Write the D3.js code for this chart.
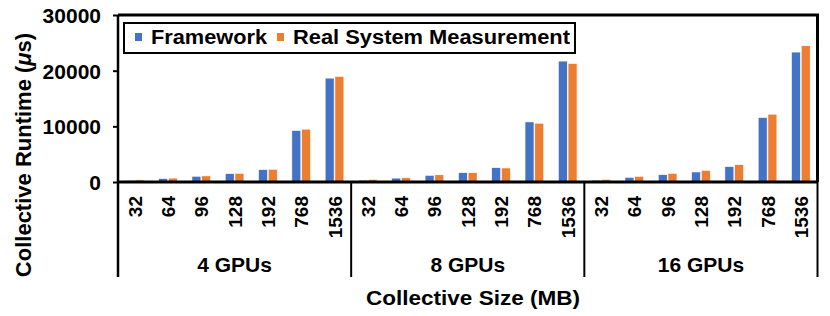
<!DOCTYPE html>
<html>
<head>
<meta charset="utf-8">
<script src="https://cdn.jsdelivr.net/npm/d3@7"></script>
<style>
  body { margin: 0; background: #fff; }
  text { font-family: "Liberation Sans", Arial, sans-serif; font-weight: bold; fill: #000; }
</style>
</head>
<body>
<svg width="830" height="316"></svg>
<script>
// data
const groups = ['4 GPUs', '8 GPUs', '16 GPUs'];
const sizes = ['32', '64', '96', '128', '192', '768', '1536'];
const series = ['Framework', 'Real System Measurement'];
const framework = [
  [300, 620, 1030, 1500, 2230, 9250, 18660],
  [330, 700, 1200, 1680, 2580, 10800, 21720],
  [330, 840, 1320, 1800, 2760, 11580, 23340]
];
const measured = [
  [380, 700, 1100, 1560, 2290, 9490, 18970],
  [450, 760, 1300, 1680, 2520, 10560, 21300],
  [480, 1020, 1560, 2100, 3120, 12180, 24480]
];
const yTicks = [0, 10000, 20000, 30000];
const colors = ['#4472C4', '#ED7D31'];

// layout
const LEFT = 118, RIGHT = 817.5, TOP = 15, BOTTOM = 182, SEP_BOTTOM = 277;

const svg = d3.select('svg');

const y = d3.scaleLinear().domain([0, 30000]).range([BOTTOM, TOP]);
const xGroup = d3.scaleBand().domain(groups).range([LEFT, RIGHT]);
const xSize = d3.scaleBand().domain(sizes).range([0, xGroup.bandwidth()]);
const xSeries = d3.scaleBand().domain(series).range([0, xSize.bandwidth()]).paddingOuter(0.75).paddingInner(0.08);

// bars
const rows = [];
groups.forEach((g, gi) => sizes.forEach((s, si) => {
  rows.push({g, s, k: series[0], v: framework[gi][si], c: colors[0]});
  rows.push({g, s, k: series[1], v: measured[gi][si], c: colors[1]});
}));

svg.append('g').selectAll('rect')
  .data(rows).join('rect')
  .attr('x', d => xGroup(d.g) + xSize(d.s) + xSeries(d.k))
  .attr('y', d => y(d.v))
  .attr('width', xSeries.bandwidth())
  .attr('height', d => BOTTOM - y(d.v))
  .attr('fill', d => d.c)
  .attr('stroke', '#fff')
  .attr('stroke-width', 0.6);

// frame
svg.append('path')
  .attr('d', `M${LEFT},${TOP}H${RIGHT}V${BOTTOM}`)
  .attr('fill', 'none').attr('stroke', '#000').attr('stroke-width', 3);
svg.append('line')
  .attr('x1', LEFT).attr('x2', RIGHT).attr('y1', BOTTOM).attr('y2', BOTTOM)
  .attr('stroke', '#000').attr('stroke-width', 3);
svg.append('line')
  .attr('x1', LEFT).attr('x2', LEFT).attr('y1', TOP).attr('y2', SEP_BOTTOM)
  .attr('stroke', '#000').attr('stroke-width', 2.5);

// y axis
const yAxis = svg.append('g')
  .attr('transform', `translate(${LEFT},0)`)
  .call(d3.axisLeft(y).tickValues(yTicks).tickSize(5).tickPadding(12).tickFormat(d3.format('d')));
yAxis.select('.domain').remove();
yAxis.selectAll('line').attr('stroke', '#000').attr('stroke-width', 2);
yAxis.selectAll('text')
  .attr('font-size', 21).attr('font-family', null).attr('fill', '#000')
  .attr('dy', '0.36em');

// group separators
svg.append('g').selectAll('line')
  .data(groups.slice(1).map(g => xGroup(g)).concat([RIGHT]))
  .join('line')
  .attr('x1', d => d).attr('x2', d => d)
  .attr('y1', BOTTOM).attr('y2', SEP_BOTTOM)
  .attr('stroke', '#000').attr('stroke-width', 2);

// size labels
const sizeLabels = [];
groups.forEach(g => sizes.forEach(s => sizeLabels.push({g, s})));
svg.append('g').selectAll('text')
  .data(sizeLabels).join('text')
  .attr('transform', d => `translate(${xGroup(d.g) + xSize(d.s) + xSize.bandwidth() / 2 + 7},196) rotate(-90)`)
  .attr('text-anchor', 'end')
  .attr('font-size', 19)
  .text(d => d.s);

// group labels
svg.append('g').selectAll('text')
  .data(groups).join('text')
  .attr('x', d => xGroup(d) + xGroup.bandwidth() / 2)
  .attr('y', 272)
  .attr('text-anchor', 'middle')
  .attr('font-size', 21)
  .text(d => d);

// axis titles
svg.append('text')
  .attr('x', 473).attr('y', 305)
  .attr('text-anchor', 'middle')
  .attr('font-size', 20)
  .attr('textLength', 214).attr('lengthAdjust', 'spacingAndGlyphs')
  .text('Collective Size (MB)');

const yTitle = svg.append('text')
  .attr('transform', 'translate(31,155) rotate(-90)')
  .attr('text-anchor', 'middle')
  .attr('font-size', 22);
yTitle.append('tspan').text('Collective Runtime (');
yTitle.append('tspan').attr('font-style', 'italic').text('μ');
yTitle.append('tspan').text('s)');

// legend
const legend = svg.append('g').attr('transform', 'translate(124,23)');
legend.append('rect')
  .attr('width', 451).attr('height', 30)
  .attr('fill', '#fff').attr('stroke', '#000').attr('stroke-width', 2);
const legendX = [11, 153];
const legendW = [116, 277];
const item = legend.selectAll('g.item')
  .data(series).join('g')
  .attr('class', 'item')
  .attr('transform', (d, i) => `translate(${legendX[i]},0)`);
item.append('rect')
  .attr('y', 10).attr('width', 7).attr('height', 8)
  .attr('fill', (d, i) => colors[i]);
item.append('text')
  .attr('x', 16).attr('y', 21)
  .attr('font-size', 20)
  .attr('textLength', (d, i) => legendW[i]).attr('lengthAdjust', 'spacingAndGlyphs')
  .text(d => d);
</script>
</body>
</html>
